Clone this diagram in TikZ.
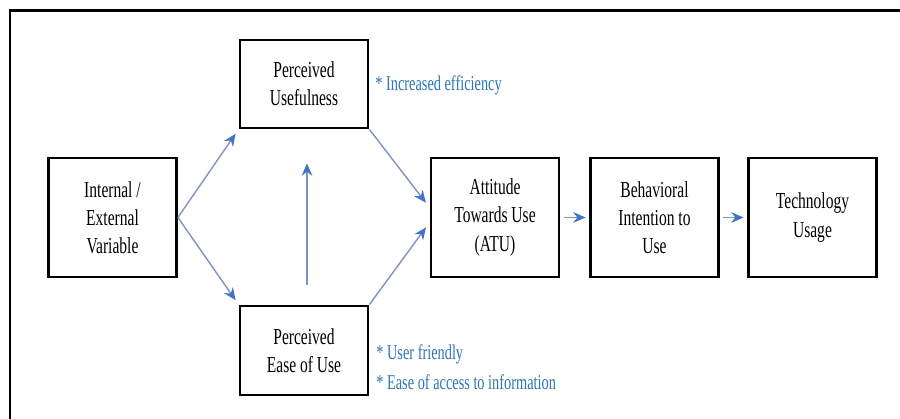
\documentclass[tikz,border=0pt]{standalone}
\usepackage{fontspec}
\setmainfont[FakeStretch=0.68]{Liberation Serif}
\usetikzlibrary{arrows.meta}

\definecolor{linkblue}{RGB}{128,146,196}
\definecolor{tipblue}{RGB}{68,114,196}
\definecolor{noteblue}{RGB}{46,117,182}

\begin{document}
\begin{tikzpicture}[
  font=\fontsize{13}{16}\selectfont,
  box/.style={draw, line width=1.6pt, align=center, inner sep=2pt,
    minimum width=2.56cm},
  link/.style={draw=linkblue, line width=0.8pt,
    -{Stealth[length=7pt, width=6pt, color=tipblue]}},
  note/.style={text=noteblue, anchor=west, align=left, inner sep=0pt,
    font=\fontsize{12}{17}\selectfont}]
  \useasboundingbox (0,0) rectangle (18,8.38);

  % frame (cut off at right and bottom)
  \draw[line width=1.7pt] (0.2,0) |- (18,8.16);

  \node[box, minimum height=2.38cm] (ext) at (2.25,4.03) {Internal /\\External\\Variable};
  \node[box, minimum height=1.76cm] (pu) at (6.08,6.70) {Perceived\\Usefulness};
  \node[box, minimum height=1.78cm] (peou) at (6.08,1.37) {Perceived\\Ease of Use};
  \node[box, minimum height=2.38cm] (atu) at (9.90,4.03) {Attitude\\Towards Use\\(ATU)};
  \node[box, minimum height=2.38cm] (bi) at (13.09,4.03) {Behavioral\\Intention to\\Use};
  \node[box, minimum height=2.38cm] (tu) at (16.25,4.03) {Technology\\Usage};

  \node[note] (pu note) at (7.50,6.68) {* Increased efficiency};
  \node[note] (peou note) at (7.52,1.04) {* User friendly\\* Ease of access to information};

  \draw[link, shorten >=3pt] (ext.east) -- (pu.south west);
  \draw[link, shorten >=3pt] (ext.east) -- (peou.north west);
  \draw[link, shorten <=0.4cm, shorten >=0.68cm] ([xshift=0.06cm]peou.north) -- ([xshift=0.06cm]pu.south);
  \draw[link, shorten >=0.12cm] (pu.south east) -- ([yshift=0.2cm]atu.west);
  \draw[link, shorten >=0.12cm] (peou.north east) -- ([yshift=-0.1cm]atu.west);

  \foreach \a/\b in {atu/bi, bi/tu} {
    \draw[link, shorten <=2pt, shorten >=2pt] (\a.east) -- (\b.west);
  }

\end{tikzpicture}
\end{document}
